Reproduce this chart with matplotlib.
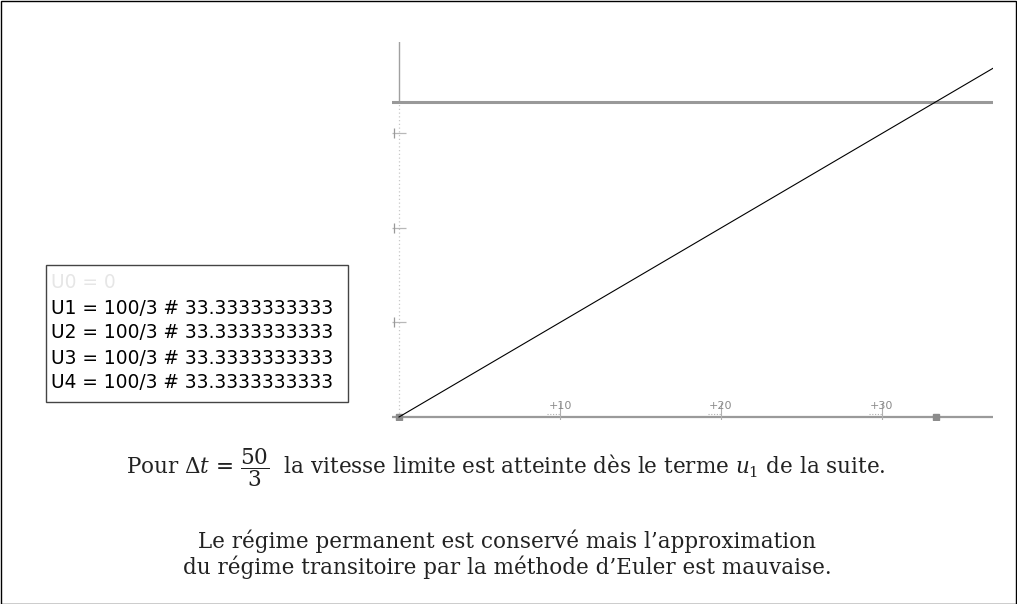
import matplotlib.pyplot as plt
from matplotlib.patches import Rectangle

plt.rcParams['mathtext.fontset'] = 'dejavuserif'

# Euler sequence values (u_n) for dt = 50/3
dt = 50 / 3
u_limit = 100 / 3
seq_labels = ['U0 = 0', 'U1 = 100/3 # 33.3333333333', 'U2 = 100/3 # 33.3333333333',
              'U3 = 100/3 # 33.3333333333', 'U4 = 100/3 # 33.3333333333']
seq_colors = ['#e6e6e6', 'black', 'black', 'black', 'black']

# straight line drawn on the screen
line_t = [0, 37]
line_u = [0, 37]

# points marked on the t axis
mark_t = [0, 2 * dt]

x_ticks = [10, 20, 30]
x_tick_labels = ['+10', '+20', '+30']
y_ticks = [10, 20, 30]

W, H = 1017, 604
fig = plt.figure(figsize=(W / 100, H / 100), dpi=100)

# axes placed by pixels: left 392, right 993, top 42, bottom 420
ax = fig.add_axes([392 / W, (H - 420) / H, (993 - 392) / W, (420 - 42) / H])
ax.set_xlim(-0.435, 36.9)
ax.set_ylim(-0.317, 39.68)
ax.axis('off')

# axes lines
ax.axhline(0, color='#9a9a9a', lw=1.6, zorder=1)
ax.plot([0, 0], [0, u_limit], color='#c8c8c8', lw=0.9, ls=(0, (1, 2)), zorder=1)
ax.plot([0, 0], [u_limit, 39.68], color='#a0a0a0', lw=1.0, zorder=1)

# limit velocity
ax.axhline(u_limit, color='#999999', lw=2.2, zorder=2)

# line
ax.plot(line_t, line_u, color='black', lw=0.8, zorder=3)

# x ticks
for t, lab in zip(x_ticks, x_tick_labels):
    ax.plot([t, t], [-0.5, 1.5], color='#b0b0b0', lw=0.8)
    ax.plot([t - 0.8, t], [0.3, 0.3], color='#b0b0b0', lw=0.8, ls=(0, (1, 1.5)))
    ax.text(t, 0.6, lab, ha='center', va='bottom', fontsize=8, color='#8a8a8a')

# y ticks
for y in y_ticks:
    ax.plot(0, y, marker='_', ms=10, color='#b8b8b8', mew=0.9)
    ax.plot(-0.33, y, marker='|', ms=7, color='#999999', mew=0.9)

# marks on the t axis
ax.plot(mark_t, [0, 0], ls='none', marker='s', ms=5, color='#8c8c8c')

# sequence box
box_x0, box_y0, box_x1, box_y1 = 46, 265, 348, 402
fig.add_artist(Rectangle((box_x0 / W, 1 - box_y1 / H), (box_x1 - box_x0) / W,
                         (box_y1 - box_y0) / H, transform=fig.transFigure,
                         fill=False, edgecolor='#444444', lw=1.0))
for i, (lab, c) in enumerate(zip(seq_labels, seq_colors)):
    fig.text(51 / W, 1 - (283 + 25 * i) / H, lab, ha='left', va='center',
             fontsize=13.4, color=c, family='DejaVu Sans')

# captions
cap = dict(ha='center', va='center', fontsize=15.5, family='DejaVu Serif', color='#222222')
fig.text(506 / W, 1 - 468 / H,
         r'Pour $\Delta t$ = $\dfrac{50}{3}$  la vitesse limite est atteinte dès le terme $u_1$ de la suite.',
         **cap)
fig.text(507 / W, 1 - 541 / H,
         'Le régime permanent est conservé mais l’approximation', **cap)
fig.text(507 / W, 1 - 567 / H,
         'du régime transitoire par la méthode d’Euler est mauvaise.', **cap)

# outer frame
fig.add_artist(Rectangle((0.5 / W, 0.5 / H), (W - 1.5) / W, (H - 1.5) / H,
                         transform=fig.transFigure, fill=False,
                         edgecolor='black', lw=1.0))

fig.savefig('out.png', dpi=100)
